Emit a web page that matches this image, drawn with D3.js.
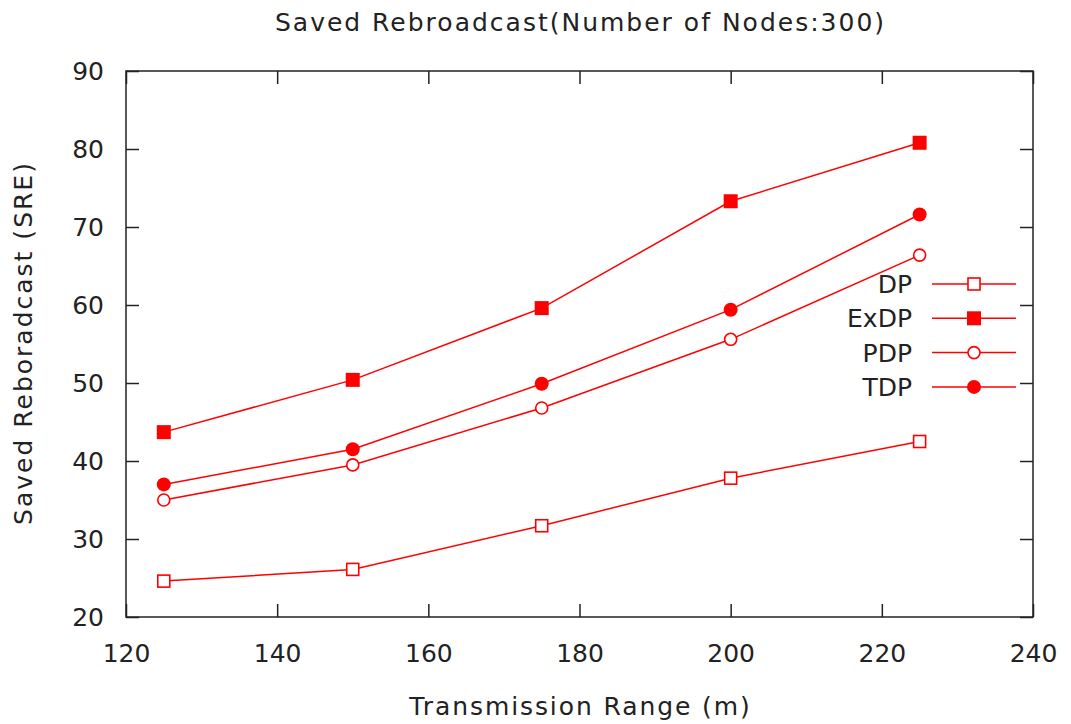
<!DOCTYPE html>
<html>
<head>
<meta charset="utf-8">
<script src="https://cdn.jsdelivr.net/npm/d3@7"></script>
<style>
  body { margin: 0; background: #fff; }
  text { font-family: "DejaVu Sans", Verdana, sans-serif; fill: #222; }
</style>
</head>
<body>
<div id="chart"></div>
<script>
// data
const ranges = [125, 150, 175, 200, 225];
const dp   = [24.6, 26.1, 31.7, 37.8, 42.5];
const exdp = [43.7, 50.4, 59.6, 73.3, 80.8];
const pdp  = [35.0, 39.5, 46.8, 55.6, 66.4];
const tdp  = [37.0, 41.5, 49.9, 59.4, 71.6];
const seriesNames = ["DP", "ExDP", "PDP", "TDP"];
const xTicks = [120, 140, 160, 180, 200, 220, 240];
const yTicks = [20, 30, 40, 50, 60, 70, 80, 90];

const series = [
    {name: "DP", values: dp, shape: "square", filled: false},
    {name: "ExDP", values: exdp, shape: "square", filled: true},
    {name: "PDP", values: pdp, shape: "circle", filled: false},
    {name: "TDP", values: tdp, shape: "circle", filled: true}
];

const W = 1071, H = 724;
const margin = {top: 71, right: 38, bottom: 107, left: 126};
const width = W - margin.left - margin.right;
const height = H - margin.top - margin.bottom;
const red = "#ff0000";
const tick = 13;

const svg = d3.select("#chart").append("svg")
    .attr("width", W)
    .attr("height", H);

const g = svg.append("g")
    .attr("transform", `translate(${margin.left},${margin.top})`);

const x = d3.scaleLinear().domain([120, 240]).range([0, width]);
const y = d3.scaleLinear().domain([20, 90]).range([height, 0]);

//axes, ticks pointing inwards on every side
function styleAxis(sel) {
    sel.select(".domain").remove();
    sel.selectAll(".tick line").attr("stroke", "#222").attr("stroke-width", 1.5);
    sel.selectAll(".tick text").attr("font-size", 25).attr("fill", "#222");
}

g.append("g")
    .attr("transform", `translate(0,${height})`)
    .call(d3.axisBottom(x).tickValues(xTicks).tickSize(-tick).tickPadding(27))
    .call(styleAxis);
g.append("g")
    .call(d3.axisTop(x).tickValues(xTicks).tickSize(-tick).tickFormat(""))
    .call(styleAxis);
g.append("g")
    .call(d3.axisLeft(y).tickValues(yTicks).tickSize(-tick).tickPadding(22))
    .call(styleAxis);
g.append("g")
    .attr("transform", `translate(${width},0)`)
    .call(d3.axisRight(y).tickValues(yTicks).tickSize(-tick).tickFormat(""))
    .call(styleAxis);

g.selectAll(".tick text").attr("font-family", "'DejaVu Sans', Verdana, sans-serif");

//frame
g.append("rect")
    .attr("width", width)
    .attr("height", height)
    .attr("fill", "none")
    .attr("stroke", "#222")
    .attr("stroke-width", 1.5);

//marker drawing helper
function marker(sel, s) {
    if (s.shape === "square") {
        const sz = s.filled ? 14 : 12;
        sel.append("rect")
            .attr("x", -sz / 2).attr("y", -sz / 2)
            .attr("width", sz).attr("height", sz)
            .attr("fill", s.filled ? red : "#fff")
            .attr("stroke", red).attr("stroke-width", s.filled ? 0 : 1.6);
    } else {
        sel.append("circle")
            .attr("r", s.filled ? 7 : 6)
            .attr("fill", s.filled ? red : "#fff")
            .attr("stroke", red).attr("stroke-width", s.filled ? 0 : 1.6);
    }
}

const line = d3.line()
    .x((d, i) => x(ranges[i]))
    .y(d => y(d));

series.forEach(s => {
    g.append("path")
        .attr("d", line(s.values))
        .attr("fill", "none")
        .attr("stroke", red)
        .attr("stroke-width", 1.5);
    s.values.forEach((v, i) => {
        g.append("g")
            .attr("transform", `translate(${x(ranges[i])},${y(v)})`)
            .call(marker, s);
    });
});

//legend
const legend = svg.append("g").attr("transform", "translate(0,284)");
series.forEach((s, i) => {
    const row = legend.append("g").attr("transform", `translate(0,${i * 34.3})`);
    row.append("text")
        .attr("x", 912).attr("y", 9)
        .attr("text-anchor", "end")
        .attr("font-size", 25)
        .text(seriesNames[i]);
    row.append("line")
        .attr("x1", 932).attr("x2", 1016)
        .attr("stroke", red).attr("stroke-width", 1.5);
    row.append("g").attr("transform", "translate(974,0)").call(marker, s);
});

//title and axis labels (the original font runs wider)
svg.append("text")
    .attr("x", margin.left + width / 2 + 1).attr("y", 31)
    .attr("text-anchor", "middle")
    .attr("font-size", 25)
    .attr("letter-spacing", 2)
    .text("Saved Rebroadcast(Number of Nodes:300)");

svg.append("text")
    .attr("x", margin.left + width / 2 + 1).attr("y", 715)
    .attr("text-anchor", "middle")
    .attr("font-size", 25)
    .attr("letter-spacing", 1.9)
    .text("Transmission Range (m)");

svg.append("text")
    .attr("transform", `translate(32,${margin.top + height / 2 - 1}) rotate(-90)`)
    .attr("text-anchor", "middle")
    .attr("font-size", 25)
    .attr("letter-spacing", 2)
    .text("Saved Reboradcast (SRE)");
</script>
</body>
</html>
